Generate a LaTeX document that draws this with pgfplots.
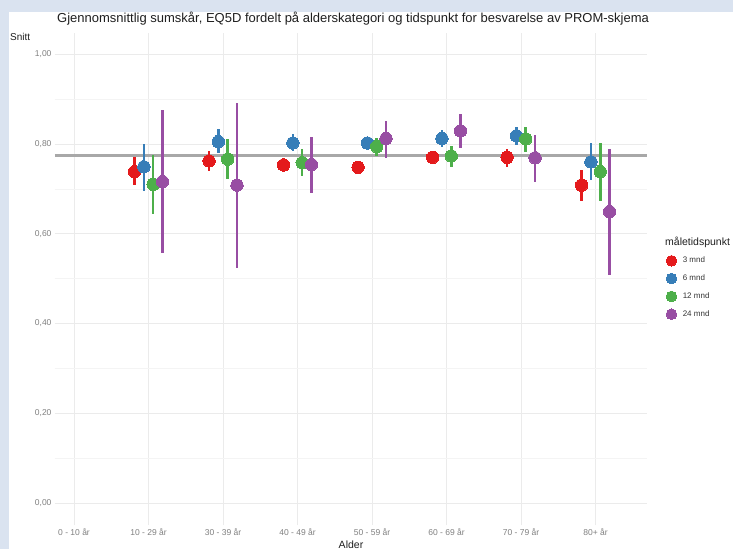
\documentclass[border=0pt]{standalone}
\usepackage{fontspec}
\setmainfont{Liberation Sans}
\usepackage{pgfplots}
\usepackage{pgfplotstable}
\pgfplotsset{compat=1.18}

\definecolor{cred}{HTML}{E41A1C}
\definecolor{cblue}{HTML}{377EB8}
\definecolor{cgreen}{HTML}{4DAF4A}
\definecolor{cpurple}{HTML}{984EA3}
\definecolor{bgblue}{HTML}{DAE3F0}
\definecolor{gridc}{HTML}{EBEBEB}
\definecolor{gridm}{HTML}{F4F4F4}
\definecolor{reflinec}{HTML}{A8A8A8}

% 3 mnd
\pgfplotstableread{
cat y lo hi
2 0.738 0.708 0.770
3 0.762 0.739 0.784
4 0.753 0.737 0.768
5 0.748 0.734 0.760
6 0.770 0.755 0.784
7 0.770 0.749 0.788
8 0.708 0.673 0.742
}\tabA
% 6 mnd
\pgfplotstableread{
cat y lo hi
2 0.749 0.696 0.799
3 0.805 0.779 0.834
4 0.802 0.784 0.823
5 0.802 0.790 0.816
6 0.812 0.794 0.831
7 0.818 0.797 0.838
8 0.760 0.719 0.802
}\tabB
% 12 mnd
\pgfplotstableread{
cat y lo hi
2 0.710 0.644 0.775
3 0.766 0.722 0.810
4 0.758 0.729 0.788
5 0.794 0.773 0.812
6 0.773 0.749 0.796
7 0.811 0.782 0.837
8 0.738 0.673 0.802
}\tabC
% 24 mnd
\pgfplotstableread{
cat y lo hi
2 0.716 0.558 0.875
3 0.708 0.523 0.890
4 0.754 0.691 0.816
5 0.812 0.768 0.851
6 0.829 0.790 0.866
7 0.769 0.716 0.820
8 0.649 0.509 0.788
}\tabD

\pgfplotsset{
  bars/.style={forget plot, only marks, mark=none,
    error bars/.cd, y dir=both, y explicit, error mark=none,
    error bar style={line width=2.6pt, color=#1}},
  pts/.style={only marks, mark=*, mark size=6.2pt, color=#1,
    mark options={draw=#1, fill=#1, line width=0pt}},
}

\begin{document}
\begin{tikzpicture}[x=1pt,y=1pt]
\path[use as bounding box] (-55,-24) rectangle (678,525);
\fill[bgblue] (-55,-24) rectangle (678,525);
\fill[white] (-46,-24) rectangle (678,513);

\begin{axis}[
  anchor=south west,
  scale only axis, width=592pt, height=492pt,
  xmin=0.745, xmax=8.69, ymin=-0.049, ymax=1.047,
  xtick={1,2,3,4,5,6,7,8},
  xticklabels={0 - 10 år, 10 - 29 år, 30 - 39 år, 40 - 49 år, 50 - 59 år, 60 - 69 år, 70 - 79 år, 80+ år},
  ytick={0,0.2,0.4,0.6,0.8,1.0},
  yticklabels={{0,00},{0,20},{0,40},{0,60},{0,80},{1,00}},
  minor ytick={0.1,0.3,0.5,0.7,0.9},
  grid=both,
  major grid style={gridc, line width=0.7pt},
  minor grid style={gridm, line width=0.5pt},
  axis line style={draw=none},
  major tick length=0pt, minor tick length=0pt,
  tick label style={font=\fontsize{8.5}{10}\selectfont, text=black!50},
  legend style={at={(1.027,0.553)}, anchor=north west, draw=none, fill=none,
    font=\fontsize{8}{9.5}\selectfont, row sep=6.5pt, text=black!80,
    /tikz/every odd column/.append style={column sep=4pt}},
  legend cell align=left,
  legend image post style={mark size=5.3pt},
]
\addplot[reflinec, line width=3pt, forget plot] coordinates {(0.745,0.774) (8.69,0.774)};

\addplot[bars=cred] table[x expr=\thisrow{cat}-0.1875, y=y,
  y error plus expr=\thisrow{hi}-\thisrow{y}, y error minus expr=\thisrow{y}-\thisrow{lo}] {\tabA};
\addplot[pts=cred] table[x expr=\thisrow{cat}-0.1875, y=y] {\tabA};
\addlegendentry{3 mnd}
\addplot[bars=cblue] table[x expr=\thisrow{cat}-0.0625, y=y,
  y error plus expr=\thisrow{hi}-\thisrow{y}, y error minus expr=\thisrow{y}-\thisrow{lo}] {\tabB};
\addplot[pts=cblue] table[x expr=\thisrow{cat}-0.0625, y=y] {\tabB};
\addlegendentry{6 mnd}
\addplot[bars=cgreen] table[x expr=\thisrow{cat}+0.0625, y=y,
  y error plus expr=\thisrow{hi}-\thisrow{y}, y error minus expr=\thisrow{y}-\thisrow{lo}] {\tabC};
\addplot[pts=cgreen] table[x expr=\thisrow{cat}+0.0625, y=y] {\tabC};
\addlegendentry{12 mnd}
\addplot[bars=cpurple] table[x expr=\thisrow{cat}+0.1875, y=y,
  y error plus expr=\thisrow{hi}-\thisrow{y}, y error minus expr=\thisrow{y}-\thisrow{lo}] {\tabD};
\addplot[pts=cpurple] table[x expr=\thisrow{cat}+0.1875, y=y] {\tabD};
\addlegendentry{24 mnd}
\end{axis}

\node[anchor=base west, inner sep=0pt, font=\fontsize{13}{15}\selectfont, text=black!88] at (2,502)
  {Gjennomsnittlig sumskår, EQ5D fordelt på alderskategori og tidspunkt for besvarelse av PROM-skjema};
\node[anchor=base west, inner sep=0pt, font=\fontsize{10}{12}\selectfont, text=black!88] at (-45,484) {Snitt};
\node[anchor=base, inner sep=0pt, font=\fontsize{10.5}{12}\selectfont, text=black!88] at (296,-23) {Alder};
\node[anchor=base west, inner sep=0pt, font=\fontsize{10.5}{12}\selectfont, text=black!88] at (610,279) {måletidspunkt};
\end{tikzpicture}
\end{document}
